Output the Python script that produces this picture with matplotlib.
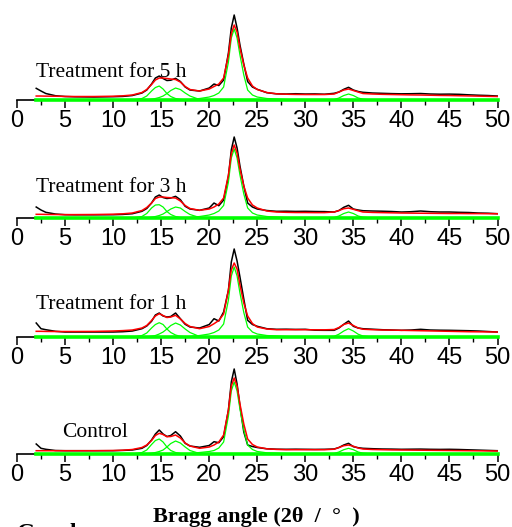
import matplotlib
matplotlib.use("Agg")
import matplotlib.pyplot as plt
from matplotlib.ticker import MultipleLocator

# shared angle grid for the measured (black) and fitted (red) curves
x_data = [2, 2.5, 3, 4, 5, 6, 8, 10, 11, 12,
          13, 13.5, 14, 14.4, 14.8, 15.2, 15.6, 16, 16.5, 17,
          17.5, 18, 19, 20, 20.5, 21, 21.5, 22, 22.3, 22.6,
          22.9, 23.2, 23.6, 24, 24.5, 25, 26, 27, 28, 29,
          30, 31, 32, 33, 33.5, 34, 34.5, 35, 35.5, 36,
          37, 38, 39, 40, 41, 42, 43, 44, 45, 46,
          47, 48, 49, 50]

# local grids for the fitted peak components (green)
x_p15 = [12, 13, 13.5, 14, 14.4, 14.8, 15.2, 15.6, 16, 16.5, 17, 17.5, 18, 19]
x_p22 = [18, 19, 20, 20.5, 21, 21.5, 22, 22.3, 22.6, 22.9, 23.2, 23.6, 24, 24.5, 25, 26, 27, 28, 30]
x_p34 = [32, 33, 33.5, 34, 34.5, 35, 35.5, 36, 37]

labels = ["Treatment for 5 h", "Treatment for 3 h", "Treatment for 1 h", "Control"]

black_5h = [11.7, 9, 6.5, 4.3, 3.5, 3.2, 3, 3.3, 3.6, 4.5,
            7, 10, 16, 22, 24, 21.5, 19.5, 19.8, 21.7, 18.5,
            13, 10, 9, 12, 16, 14.5, 20, 47, 72, 85,
            72, 55, 36, 18.5, 13, 10.7, 7.3, 6.2, 6, 6.3,
            6, 6.1, 5.8, 6.7, 8, 10.7, 12.7, 10, 8.5, 7.7,
            7, 6.7, 6.4, 6.2, 6.3, 6.5, 6, 5.8, 5.9, 5.7,
            5.2, 4.8, 4.5, 4]
red_5h = [4, 4, 3.9, 3.8, 3.6, 3.5, 3.5, 3.8, 4.2, 5,
          7.5, 10.5, 15.5, 20, 22, 22, 21.5, 21, 20.5, 18,
          13.5, 10.5, 9, 11, 13.5, 16, 22, 45, 66, 75,
          68, 52, 35, 22, 14, 10.5, 7.5, 6.2, 5.8, 5.6,
          5.5, 5.5, 5.5, 6, 8, 10, 11, 9.5, 8, 6.5,
          6, 5.7, 5.5, 5.3, 5.1, 5, 4.8, 4.6, 4.5, 4.3,
          4.1, 3.9, 3.7, 3.5]
peak15_5h = [0, 1.5, 4, 9, 12.5, 14, 11, 6.5, 3.5, 1.5, 0.5, 0.2, 0, 0]
peak16_5h = [0, 0, 0.2, 0.8, 1.5, 2.5, 4, 6.5, 9.5, 12, 10.5, 7, 4, 0.5]
peak22_5h = [0.5, 1.5, 3, 4.5, 7, 13, 38, 62, 71, 62, 45, 25, 10, 5, 3, 1.5, 1, 0.5, 0]
peak34_5h = [0, 0.5, 2, 4.5, 6, 4.5, 2, 0.8, 0]

black_3h = [11, 8, 5.7, 4, 3.3, 3.2, 3.2, 3.3, 3.6, 4.3,
            6.7, 9.5, 15, 21, 23, 20.5, 19.5, 20, 21.7, 18.3,
            11.7, 9, 7.7, 10, 15, 12.3, 18, 41.7, 68, 81,
            70, 52, 32, 15, 11, 9, 7.5, 6.7, 6.8, 6.6,
            6.7, 6.5, 6.4, 6, 7.5, 10.7, 12.7, 9, 8, 7.3,
            7, 6.8, 6.5, 6, 6.3, 7, 6.3, 6, 6, 5.7,
            5.5, 5, 4.8, 4.3]
red_3h = [3.7, 3.7, 3.6, 3.5, 3.4, 3.4, 3.5, 3.8, 4.2, 5,
          7.5, 10.5, 15, 19.5, 21, 21, 20.5, 20.3, 20, 17,
          12.5, 9.5, 7.7, 9, 11, 14, 20, 43, 64, 73,
          65, 49, 32, 20, 13, 10, 7, 6, 5.7, 5.5,
          5.5, 5.4, 5.4, 6, 7.5, 9.3, 10, 8.7, 7.3, 6,
          5.6, 5.4, 5.2, 5, 4.9, 4.8, 4.7, 4.6, 4.5, 4.5,
          4.4, 4.4, 4.3, 4.3]
peak15_3h = [0, 1.5, 4.5, 10, 13, 13.3, 11, 6.5, 3.5, 1.5, 0.5, 0.2, 0, 0]
peak16_3h = [0, 0, 0.2, 0.8, 1.5, 2.5, 4, 6.5, 9, 11, 10, 6.5, 3.5, 0.5]
peak22_3h = [0.5, 1.5, 3, 4.5, 7, 12.5, 36, 60, 69, 60, 43, 24, 10, 5, 3, 1.5, 1, 0.5, 0]
peak34_3h = [0, 0.5, 2, 4.5, 6, 4.5, 2, 0.8, 0]

black_1h = [14, 8.3, 7.3, 5.7, 5, 5, 5, 5, 5.3, 6,
            8.3, 11, 15.7, 22, 24, 21, 20, 20.5, 24, 18.3,
            12.7, 10, 9, 12.5, 18.3, 16, 25, 46.7, 75, 88,
            76, 60, 38, 16.7, 12.5, 10.7, 8.3, 7.7, 7.8, 7.6,
            7.7, 6.8, 6.7, 6.7, 9, 12.7, 16, 10.7, 9, 8.3,
            7.8, 7.3, 7, 6.7, 7, 7.7, 7, 6.8, 6.7, 6.5,
            6.3, 6, 5.5, 5]
red_1h = [5.7, 5.7, 5.6, 5.5, 5.5, 5.5, 5.6, 6, 6.4, 7,
          9, 11.5, 16.5, 21, 23.3, 21.5, 19.5, 20, 21.7, 18,
          13.5, 10.5, 8.3, 10.5, 13.3, 16.5, 23, 47, 67, 74,
          68, 52, 34, 21, 13.5, 10, 8, 7.3, 7.3, 7.3,
          7.3, 7.2, 7.2, 7.5, 9.5, 12.5, 14, 11.5, 9, 7.8,
          7.3, 7, 6.9, 6.7, 6.5, 6.3, 6.1, 5.9, 5.7, 5.5,
          5.3, 5.2, 5.1, 5]
peak15_1h = [0, 1.5, 4, 9, 12.5, 14.3, 12.5, 8, 4.5, 2, 0.7, 0.3, 0, 0]
peak16_1h = [0, 0, 0.2, 0.8, 1.5, 3, 5, 8, 11.5, 14, 12, 8, 4.5, 0.5]
peak22_1h = [0.5, 1.5, 3, 4.5, 7, 13, 37, 61, 70, 61, 44, 24.5, 10, 5, 3, 1.5, 1, 0.5, 0]
peak34_1h = [0, 0.7, 2.8, 6, 8.3, 6, 2.8, 1, 0]

black_ctrl = [10, 5.7, 4.7, 3.5, 3.3, 3.3, 3.3, 3.3, 3.6, 4,
              5.7, 8.5, 14, 20, 24, 20, 17.5, 18.5, 22.3, 18,
              10.7, 8, 6.7, 8.5, 12.3, 11.3, 17.3, 44, 72, 85,
              70, 48, 22, 9, 7.5, 6.5, 5.2, 4.8, 4.7, 4.8,
              4.7, 4.6, 4.7, 5, 6.5, 9, 10.7, 7.3, 6.3, 5.7,
              5.3, 5, 4.9, 4.7, 4.8, 4.9, 4.7, 4.6, 4.7, 4.5,
              4.2, 3.9, 3.6, 3.3]
red_ctrl = [3.3, 3.3, 3.3, 3.3, 3.3, 3.3, 3.3, 3.5, 3.8, 4.5,
            6.5, 9, 13.5, 18.5, 20.7, 19.5, 17.3, 17.5, 19, 16,
            11, 8, 5.7, 7, 9, 12, 19, 44, 68, 76,
            68, 50, 30, 15, 9.5, 7, 5.2, 4.6, 4.3, 4.3,
            4.3, 4.3, 4.3, 4.8, 6.5, 8.3, 9, 7.8, 6, 5,
            4.5, 4.3, 4.1, 4, 3.9, 3.8, 3.7, 3.6, 3.5, 3.4,
            3.3, 3.2, 3.1, 3]
peak15_ctrl = [0, 1.5, 4, 9.5, 13.5, 15, 12, 7, 3.5, 1.5, 0.5, 0.2, 0, 0]
peak16_ctrl = [0, 0, 0.2, 0.8, 1.5, 2.5, 4, 7, 10.5, 13, 11, 7, 3.5, 0.5]
peak22_ctrl = [0.5, 1.5, 2.5, 3.5, 6, 12, 38, 63, 72, 63, 45, 24, 9, 4.5, 2.5, 1.2, 0.8, 0.4, 0]
peak34_ctrl = [0, 0.5, 2, 4.3, 5.7, 4.3, 2, 0.8, 0]

blacks = [black_5h, black_3h, black_1h, black_ctrl]
reds = [red_5h, red_3h, red_1h, red_ctrl]
greens = [
    [peak15_5h, peak16_5h, peak22_5h, peak34_5h],
    [peak15_3h, peak16_3h, peak22_3h, peak34_3h],
    [peak15_1h, peak16_1h, peak22_1h, peak34_1h],
    [peak15_ctrl, peak16_ctrl, peak22_ctrl, peak34_ctrl],
]
peak_x = [x_p15, x_p15, x_p22, x_p34]

label_pos = [(2, 23), (2, 26), (2, 28), (4.7, 17)]
bottoms = [0.8102, 0.5863, 0.3605, 0.1385]

fig = plt.figure(figsize=(5.12, 5.27), dpi=100)
green = "#00ff00"

for i in range(4):
    ax = fig.add_axes([0.0332, bottoms[i], 0.9385, 0.1822])
    ax.plot(x_data, blacks[i], color="black", lw=1.1, zorder=2)
    for px, py in zip(peak_x, greens[i]):
        ax.plot(px, py, color=green, lw=0.9, zorder=3)
    ax.plot([2, 50], [0, 0], color=green, lw=2.6, zorder=4, clip_on=False)
    ax.plot(x_data, reds[i], color="red", lw=1.1, zorder=5)

    ax.set_xlim(0, 50)
    ax.set_ylim(0, 96)
    for s in ["top", "left", "right"]:
        ax.spines[s].set_visible(False)
    ax.spines["bottom"].set_linewidth(1.2)
    ax.set_yticks([])
    ax.xaxis.set_major_locator(MultipleLocator(5))
    ax.xaxis.set_minor_locator(MultipleLocator(2.5))
    ax.tick_params(axis="x", which="major", direction="out", length=6, width=1.1,
                   pad=1, labelsize=17)
    ax.tick_params(axis="x", which="minor", direction="out", length=3.5, width=1.0)
    for t in ax.get_xticklabels():
        t.set_fontfamily("Liberation Sans")
    ax.patch.set_visible(False)

    lx, ly = label_pos[i]
    ax.text(lx, ly, labels[i], fontsize=15.5, family="Liberation Serif",
            va="baseline", ha="left")

fig.text(0.5, 0.0095, "Bragg angle (2θ  /  °  )", ha="center", va="baseline",
         fontsize=16, fontweight="bold", family="Liberation Serif")
# top of a caption line, cut by the lower edge as in the source figure
fig.text(0.033, -0.022, "Graph", ha="left", va="baseline",
         fontsize=17, fontweight="bold", family="Liberation Serif")

fig.savefig("out.png", dpi=100)
